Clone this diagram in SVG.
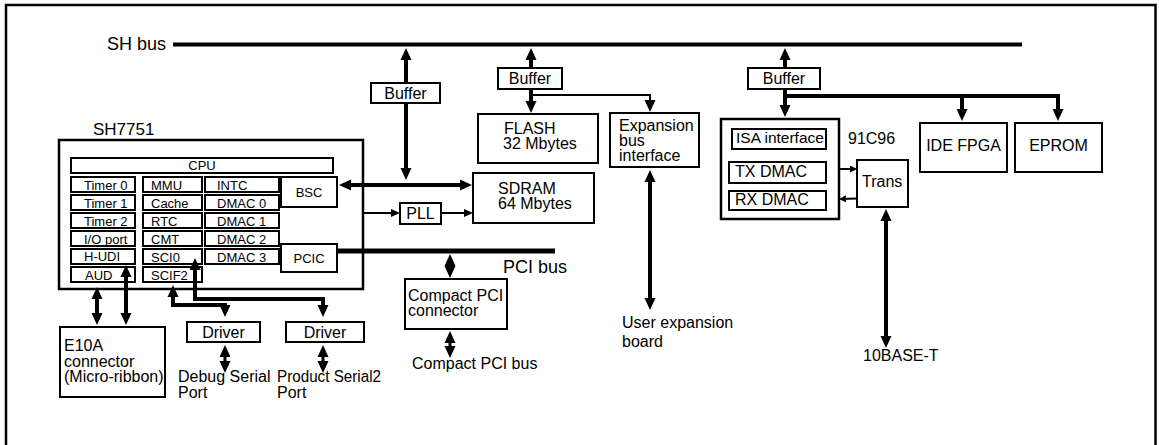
<svg xmlns="http://www.w3.org/2000/svg" width="1159" height="445" viewBox="0 0 1159 445">
<style>
text{font-family:"Liberation Sans",Arial,Helvetica,sans-serif;fill:#000}
.f16{font-size:16px}
.f13{font-size:13px}
.f18{font-size:18px}
.c{text-anchor:middle}
.b{fill:#fff;stroke:#000;stroke-width:2}
.bb{fill:#fff;stroke:#000;stroke-width:2.5}
.k{fill:none;stroke:#000;stroke-width:4}
.k3{fill:none;stroke:#000;stroke-width:3}
.t{fill:none;stroke:#000;stroke-width:2}
</style>
<defs>
<marker id="a" markerUnits="userSpaceOnUse" markerWidth="12" markerHeight="12" refX="8" refY="6" orient="auto-start-reverse"><path d="M0,0.5 L12,6 L0,11.5 z"/></marker>
<marker id="m" markerUnits="userSpaceOnUse" markerWidth="9" markerHeight="8" refX="7" refY="4" orient="auto-start-reverse"><path d="M0,0 L9,4 L0,8 z"/></marker>
<marker id="s" markerUnits="userSpaceOnUse" markerWidth="7" markerHeight="7" refX="5.5" refY="3.5" orient="auto-start-reverse"><path d="M0,0 L7,3.5 L0,7 z"/></marker>
</defs>
<rect width="1159" height="445" fill="#fff"/>
<rect x="6" y="5" width="1149.5" height="500" fill="none" stroke="#000" stroke-width="2.5"/>

<g id="shbus">
<text class="f18" x="107" y="50">SH bus</text>
<line x1="173" y1="44.5" x2="1022" y2="44.5" stroke="#000" stroke-width="4"/>
</g>

<g id="sh7751">
<text class="f16" x="93" y="135" style="font-size:17px">SH7751</text>
<rect class="bb" x="59" y="140" width="304" height="149"/>
<rect class="b" x="71" y="158" width="262" height="15"/>
<text class="f13 c" x="202" y="170">CPU</text>
<g id="col1">
<rect class="b" x="71" y="177" width="64" height="15"/><text class="f13" x="84" y="189.5">Timer 0</text>
<rect class="b" x="71" y="195" width="64" height="15"/><text class="f13" x="84" y="207.5">Timer 1</text>
<rect class="b" x="71" y="213" width="64" height="15"/><text class="f13" x="84" y="225.5">Timer 2</text>
<rect class="b" x="71" y="231" width="64" height="15"/><text class="f13" x="84" y="243.5">I/O port</text>
<rect class="b" x="71" y="249" width="64" height="15"/><text class="f13" x="84" y="261">H-UDI</text>
<rect class="b" x="71" y="267" width="64" height="15"/><text class="f13" x="85" y="279.5">AUD</text>
</g>
<g id="col2">
<rect class="b" x="143" y="177" width="59" height="15"/><text class="f13" x="151" y="189.5">MMU</text>
<rect class="b" x="143" y="195" width="59" height="15"/><text class="f13" x="151" y="207.5">Cache</text>
<rect class="b" x="143" y="213" width="59" height="15"/><text class="f13" x="151" y="225.5">RTC</text>
<rect class="b" x="143" y="231" width="59" height="15"/><text class="f13" x="151" y="243.5">CMT</text>
<rect class="b" x="143" y="249" width="59" height="15"/><text class="f13" x="151" y="261.5">SCI0</text>
<rect class="b" x="143" y="267" width="59" height="15"/><text class="f13" x="151" y="279.5">SCIF2</text>
</g>
<g id="col3">
<rect class="b" x="205" y="177" width="74" height="15"/><text class="f13" x="217" y="189.5">INTC</text>
<rect class="b" x="205" y="195" width="74" height="15"/><text class="f13" x="217" y="207.5">DMAC 0</text>
<rect class="b" x="205" y="213" width="74" height="15"/><text class="f13" x="217" y="225.5">DMAC 1</text>
<rect class="b" x="205" y="231" width="74" height="15"/><text class="f13" x="217" y="243.5">DMAC 2</text>
<rect class="b" x="205" y="249" width="74" height="15"/><text class="f13" x="217" y="261.5">DMAC 3</text>
</g>
<g id="bsc"><rect class="b" x="281" y="177" width="56" height="30"/><text class="f13 c" x="309" y="196.5">BSC</text></g>
<g id="pcic"><rect class="b" x="281" y="244" width="56" height="28"/><text class="f13 c" x="309" y="263">PCIC</text></g>
</g>

<g id="buffer1"><rect class="b" x="371" y="83" width="69" height="20"/><text class="f16 c" x="405.5" y="98.5">Buffer</text></g>
<g id="buffer2"><rect class="b" x="498" y="68" width="64" height="21"/><text class="f16 c" x="530" y="84">Buffer</text></g>
<g id="buffer3"><rect class="b" x="748" y="68" width="72" height="21"/><text class="f16 c" x="784" y="84">Buffer</text></g>

<g id="flash"><rect class="b" x="478" y="114" width="120" height="49"/><text class="f16" x="504" y="134">FLASH</text><text class="f16" x="503" y="149">32 Mbytes</text></g>
<g id="expansion"><rect class="b" x="610" y="113" width="89" height="54"/><text class="f16" x="619" y="131">Expansion</text><text class="f16" x="619" y="146">bus</text><text class="f16" x="619" y="161">interface</text></g>
<g id="sdram"><rect class="b" x="473" y="173" width="121" height="50"/><text class="f16" x="498" y="194">SDRAM</text><text class="f16" x="498" y="209">64 Mbytes</text></g>
<g id="pll"><rect class="b" x="400" y="203" width="41" height="21"/><text class="f16 c" x="420.5" y="219">PLL</text></g>

<g id="pcibus-label"><text class="f18" x="503" y="273">PCI bus</text></g>
<g id="cpci"><rect class="b" x="405" y="279" width="102" height="50"/><text class="f16" x="408" y="301">Compact PCI</text><text class="f16" x="408" y="316">connector</text></g>
<g id="cpcibus"><text class="f16" x="412" y="369">Compact PCI bus</text></g>
<g id="userexp"><text class="f16" x="622" y="328">User expansion</text><text class="f16" x="622" y="347">board</text></g>

<g id="c91c96">
<rect class="bb" x="721" y="119" width="118" height="100"/>
<rect class="b" x="732" y="129" width="94" height="20"/><text class="f16" x="736" y="143" style="font-size:15.5px">ISA interface</text>
<rect class="b" x="729" y="162" width="97" height="21"/><text class="f16" x="735" y="177">TX DMAC</text>
<rect class="b" x="729" y="191" width="97" height="19"/><text class="f16" x="735" y="205">RX DMAC</text>
<text class="f16" x="848" y="144">91C96</text>
</g>
<g id="trans"><rect class="b" x="857" y="160" width="51" height="47"/><text class="f16" x="862" y="187">Trans</text></g>
<g id="ide"><rect class="b" x="920" y="123" width="87" height="49"/><text class="f16 c" x="963.5" y="151">IDE FPGA</text></g>
<g id="eprom"><rect class="b" x="1015" y="123" width="87" height="49"/><text class="f16 c" x="1058.5" y="151">EPROM</text></g>
<g id="tenbase"><text class="f16" x="863" y="361">10BASE-T</text></g>

<g id="e10a"><rect class="b" x="60" y="327" width="105" height="70"/><text class="f16" x="64" y="351">E10A</text><text class="f16" x="64" y="366.5">connector</text><text class="f16" x="64" y="381.5">(Micro-ribbon)</text></g>
<g id="driver1"><rect class="b" x="187" y="322" width="73" height="20"/><text class="f16 c" x="223.5" y="338">Driver</text></g>
<g id="driver2"><rect class="b" x="286" y="322" width="78" height="20"/><text class="f16 c" x="325" y="338">Driver</text></g>
<g id="debugport"><text class="f16" x="178" y="382">Debug Serial</text><text class="f16" x="178" y="398">Port</text></g>
<g id="productport"><text class="f16" x="277" y="382" textLength="104" lengthAdjust="spacingAndGlyphs">Product Serial2</text><text class="f16" x="277" y="398">Port</text></g>

<g id="connectors">
<line x1="337" y1="251" x2="555" y2="251" stroke="#000" stroke-width="5"/>
<line class="k" x1="406" y1="83" x2="406" y2="52" marker-end="url(#a)"/>
<line class="k" x1="406" y1="103" x2="406" y2="176" marker-end="url(#a)"/>
<line class="k" x1="343" y1="185" x2="468" y2="185" marker-start="url(#a)" marker-end="url(#a)"/>
<line class="k" x1="531" y1="68" x2="531" y2="52" marker-end="url(#a)"/>
<line class="k" x1="531" y1="89" x2="531" y2="109" marker-end="url(#a)"/>
<polyline class="t" points="531,95 650,95 650,108" marker-end="url(#a)"/>
<line class="k" x1="650" y1="174" x2="650" y2="306" marker-start="url(#a)" marker-end="url(#a)"/>
<line class="k" x1="785" y1="68" x2="785" y2="52" marker-end="url(#a)"/>
<line class="k" x1="785" y1="89" x2="785" y2="113" marker-end="url(#a)"/>
<polyline class="k" points="783,96 1058,96 1058,117" marker-end="url(#a)"/>
<line class="k" x1="962" y1="96" x2="962" y2="117" marker-end="url(#a)"/>
<line class="k" x1="886" y1="213" x2="886" y2="344" marker-start="url(#a)" marker-end="url(#a)"/>
<line class="t" x1="363" y1="213" x2="398" y2="213" marker-end="url(#m)"/>
<line class="t" x1="441" y1="213" x2="471" y2="213" marker-end="url(#m)"/>
<line class="t" x1="839" y1="169" x2="855.5" y2="169" marker-end="url(#s)"/>
<line class="t" x1="857" y1="198.5" x2="840.5" y2="199" marker-end="url(#s)"/>
<line class="k3" x1="450" y1="258" x2="450" y2="274" marker-start="url(#a)" marker-end="url(#a)"/>
<line class="k3" x1="450" y1="335" x2="450" y2="354" marker-start="url(#a)" marker-end="url(#a)"/>
<line class="k" x1="97" y1="291" x2="97" y2="321" marker-start="url(#a)" marker-end="url(#a)"/>
<line class="k" x1="126" y1="269" x2="126" y2="321" marker-start="url(#a)" marker-end="url(#a)"/>
<polyline class="k" points="173,289 173,305 225,305 225,313" marker-start="url(#a)" marker-end="url(#a)"/>
<polyline class="k" points="195,262 195,299 323,299 323,313" marker-start="url(#a)" marker-end="url(#a)"/>
<line class="k3" x1="225" y1="349" x2="225" y2="369" marker-start="url(#a)" marker-end="url(#a)"/>
<line class="k3" x1="323" y1="349" x2="323" y2="369" marker-start="url(#a)" marker-end="url(#a)"/>
</g>
</svg>
